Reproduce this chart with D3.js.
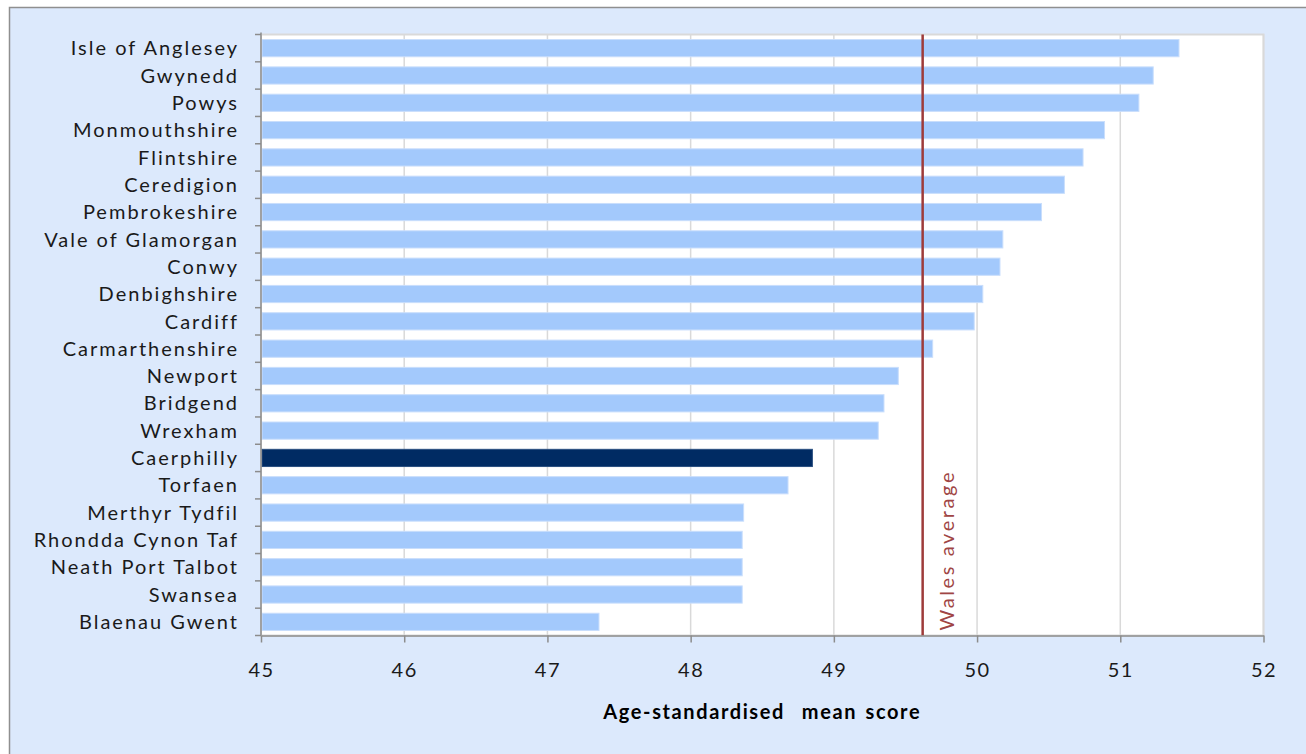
<!DOCTYPE html>
<html>
<head>
<meta charset="utf-8">
<script src="https://cdn.jsdelivr.net/npm/d3@7"></script>
<style>
  html, body { margin: 0; padding: 0; background: #ffffff; }
  svg { display: block; }
  text { font-family: Lato, "Open Sans", sans-serif; }
</style>
</head>
<body>
<svg id="chart" width="1306" height="754"></svg>
<script>
const categories = ["Isle of Anglesey","Gwynedd","Powys","Monmouthshire","Flintshire","Ceredigion",
  "Pembrokeshire","Vale of Glamorgan","Conwy","Denbighshire","Cardiff","Carmarthenshire","Newport",
  "Bridgend","Wrexham","Caerphilly","Torfaen","Merthyr Tydfil","Rhondda Cynon Taf","Neath Port Talbot",
  "Swansea","Blaenau Gwent"];
const values = [51.41,51.23,51.13,50.89,50.74,50.61,50.45,50.18,50.16,50.04,49.98,49.69,49.45,
  49.35,49.31,48.85,48.68,48.37,48.36,48.36,48.36,47.36];
const highlight = ["Caerphilly"];
const walesAverage = 49.62;
const referenceLabel = "Wales average";
const xTicks = [45,46,47,48,49,50,51,52];
const xTitle = "Age-standardised  mean score";

(function () {
const svg = d3.select("#chart");
svg.append("rect").attr("x", 9.5).attr("y", 7.5).attr("width", 1320).attr("height", 800)
  .attr("fill", "#dce9fc").attr("stroke", "#8f8f8f").attr("stroke-width", 1.5);

const pLeft = 261, pRight = 1263.5, pTop = 34.5, pBottom = 635.5;
const x = d3.scaleLinear().domain([45, 52]).range([pLeft, pRight]);
const y = d3.scaleBand().domain(categories).range([pTop, pBottom]).paddingInner(0.37).paddingOuter(0.185);

svg.append("rect").attr("x", pLeft).attr("y", pTop).attr("width", pRight - pLeft).attr("height", pBottom - pTop)
  .attr("fill", "#ffffff").attr("stroke", "#d9d9d9").attr("stroke-width", 2);

svg.append("g").selectAll("line").data(xTicks.slice(1)).join("line")
  .attr("x1", d => x(d)).attr("x2", d => x(d)).attr("y1", pTop).attr("y2", pBottom)
  .attr("stroke", "#d9d9d9").attr("stroke-width", 1.5);

svg.append("g").selectAll("rect").data(categories).join("rect")
  .attr("x", x(45) + 1)
  .attr("y", d => y(d))
  .attr("width", (d, i) => x(values[i]) - x(45) - 1)
  .attr("height", y.bandwidth())
  .attr("fill", d => highlight.includes(d) ? "#002b63" : "#a3c9fc")
  .attr("stroke", d => highlight.includes(d) ? "#2a4f80" : "#c9defc")
  .attr("stroke-width", 1);

svg.append("line").attr("x1", x(walesAverage)).attr("x2", x(walesAverage))
  .attr("y1", pTop).attr("y2", pBottom)
  .attr("stroke", "#9e3b3a").attr("stroke-width", 2.5);
svg.append("text")
  .attr("transform", `translate(${x(walesAverage) + 31},${pBottom - 5}) rotate(-90)`)
  .attr("fill", "#a04544").attr("font-size", 20).attr("letter-spacing", 2.6)
  .text(referenceLabel);

const yAxis = svg.append("g");
yAxis.append("line").attr("x1", pLeft).attr("x2", pLeft).attr("y1", pTop - 2).attr("y2", pBottom)
  .attr("stroke", "#8c8c8c").attr("stroke-width", 1.5);
const boundaries = d3.range(categories.length + 1).map(i => pTop + (pBottom - pTop) * i / categories.length);
yAxis.selectAll("line.tk").data(boundaries).join("line").attr("class", "tk")
  .attr("x1", pLeft - 6).attr("x2", pLeft).attr("y1", d => d).attr("y2", d => d)
  .attr("stroke", "#8c8c8c").attr("stroke-width", 1.5);
yAxis.selectAll("text").data(categories).join("text")
  .attr("x", pLeft - 22).attr("y", d => y(d) + y.bandwidth() / 2)
  .attr("dy", "0.36em").attr("text-anchor", "end")
  .attr("font-size", 20).attr("letter-spacing", 2).attr("fill", "#1a1a1a")
  .text(d => d);

const xAxis = svg.append("g").attr("transform", `translate(0,${pBottom})`)
  .call(d3.axisBottom(x).tickValues(xTicks).tickFormat(d3.format("d")).tickSize(7).tickSizeOuter(0).tickPadding(20));
xAxis.select(".domain").attr("stroke", "#8c8c8c").attr("stroke-width", 1.5);
xAxis.selectAll(".tick line").attr("stroke", "#8c8c8c").attr("stroke-width", 1.5);
xAxis.selectAll(".tick text").attr("font-size", 20).attr("fill", "#1a1a1a")
  .attr("font-family", "Lato, 'Open Sans', sans-serif").attr("letter-spacing", 1.5);

svg.append("text").attr("x", (pLeft + pRight) / 2).attr("y", 719)
  .attr("text-anchor", "middle").attr("font-size", 20).attr("font-weight", "bold")
  .attr("letter-spacing", 1.6).attr("word-spacing", 2).attr("style", "white-space: pre")
  .attr("fill", "#000").text(xTitle);
})();
</script>
</body>
</html>
